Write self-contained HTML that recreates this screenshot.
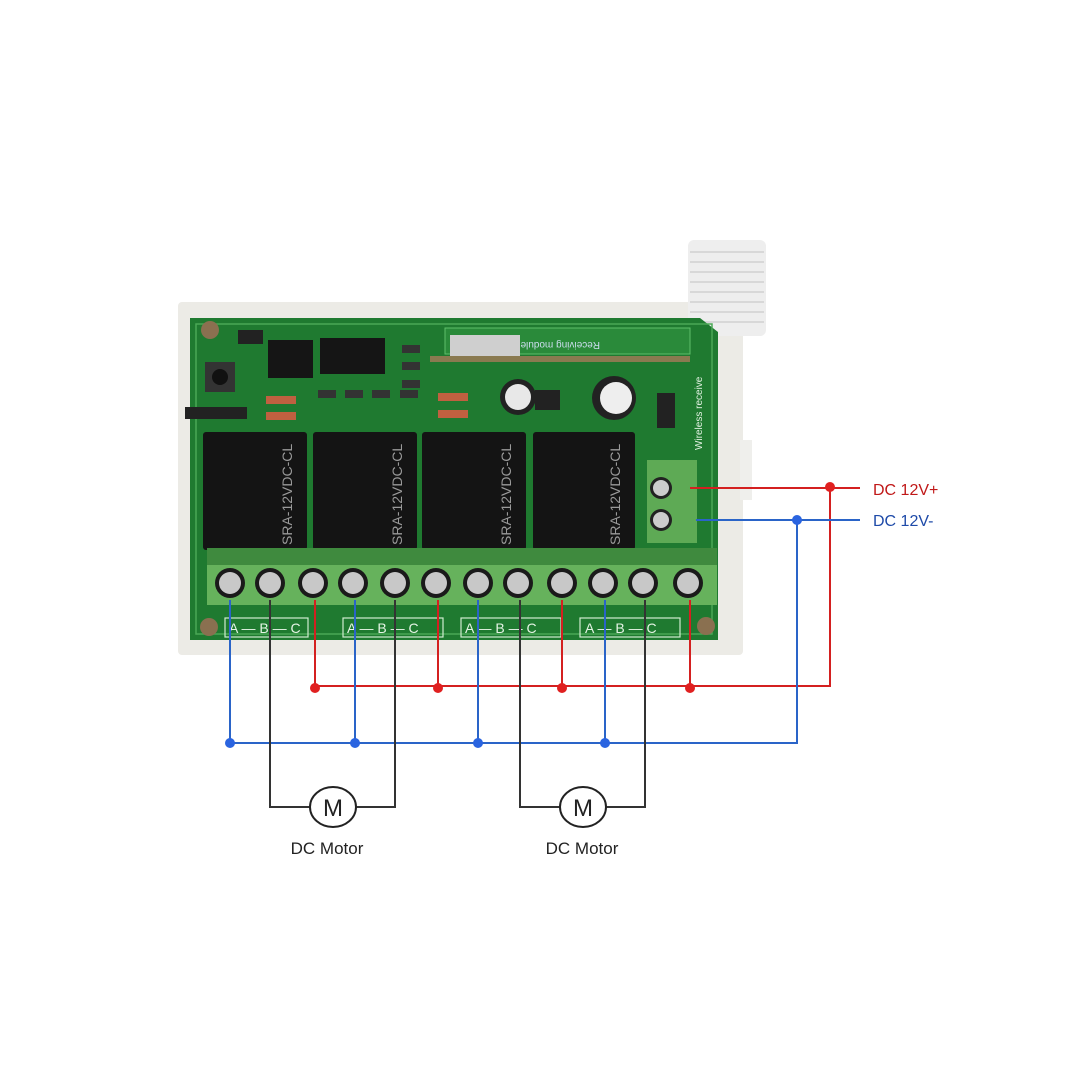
<!DOCTYPE html>
<html><head><meta charset="utf-8"><style>
body{margin:0;background:#fff;}
svg{display:block}
</style></head><body>
<svg width="1080" height="1080" viewBox="0 0 1080 1080" xmlns="http://www.w3.org/2000/svg" font-family="Liberation Sans, sans-serif">
<rect width="1080" height="1080" fill="#fff"/>
<!-- case -->
<rect x="178" y="302" width="565" height="353" rx="4" fill="#ecebe6"/>
<rect x="740" y="440" width="12" height="60" fill="#efefec"/>
<!-- antenna -->
<rect x="688" y="240" width="78" height="96" rx="6" fill="#eeeeee"/>
<g stroke="#d8d8d8" stroke-width="2">
<line x1="690" y1="252" x2="764" y2="252"/><line x1="690" y1="262" x2="764" y2="262"/><line x1="690" y1="272" x2="764" y2="272"/><line x1="690" y1="282" x2="764" y2="282"/><line x1="690" y1="292" x2="764" y2="292"/><line x1="690" y1="302" x2="764" y2="302"/><line x1="690" y1="312" x2="764" y2="312"/><line x1="690" y1="322" x2="764" y2="322"/>
</g>
<!-- board -->
<polygon points="190,318 700,318 718,332 718,640 190,640" fill="#1f7a30"/>
<rect x="196" y="324" width="516" height="310" fill="none" stroke="#4aa855" stroke-width="1.5"/>
<!-- receiving module -->
<rect x="445" y="328" width="245" height="26" fill="#2a8a3a" stroke="#5fbf6a"/>
<rect x="450" y="335" width="70" height="22" fill="#cfcfcf"/>
<rect x="430" y="356" width="260" height="6" fill="#8a7a50"/>
<text x="600" y="348" font-size="10" fill="#cde" transform="rotate(180 600 345)">Receiving module</text>
<text x="702" y="450" font-size="10" fill="#e0f0e0" transform="rotate(-90 702 450)">Wireless receive</text>
<!-- ICs -->
<rect x="268" y="340" width="45" height="38" fill="#151515"/>
<rect x="320" y="338" width="65" height="36" fill="#151515"/>
<rect x="205" y="362" width="30" height="30" fill="#333"/><circle cx="220" cy="377" r="8" fill="#111"/>
<rect x="185" y="407" width="62" height="12" fill="#222"/>
<rect x="238" y="330" width="25" height="14" fill="#222"/>
<!-- small parts -->
<g fill="#c06040"><rect x="266" y="396" width="30" height="8"/><rect x="266" y="412" width="30" height="8"/><rect x="438" y="393" width="30" height="8"/><rect x="438" y="410" width="30" height="8"/></g>
<g fill="#333"><rect x="318" y="390" width="18" height="8"/><rect x="345" y="390" width="18" height="8"/><rect x="372" y="390" width="18" height="8"/><rect x="400" y="390" width="18" height="8"/><rect x="402" y="345" width="18" height="8"/><rect x="402" y="362" width="18" height="8"/><rect x="402" y="380" width="18" height="8"/></g>
<circle cx="518" cy="397" r="18" fill="#222"/><circle cx="518" cy="397" r="13" fill="#e8e8e8"/>
<circle cx="614" cy="398" r="22" fill="#222"/><circle cx="616" cy="398" r="16" fill="#eee"/>
<rect x="535" y="390" width="25" height="20" fill="#222"/>
<rect x="657" y="393" width="18" height="35" fill="#222"/>
<!-- relays -->
<g fill="#141414">
<rect x="203" y="432" width="104" height="118" rx="3"/>
<rect x="313" y="432" width="104" height="118" rx="3"/>
<rect x="422" y="432" width="104" height="118" rx="3"/>
<rect x="533" y="432" width="102" height="118" rx="3"/>
</g>
<g fill="#9a9a9a" font-size="14">
<text transform="translate(292 545) rotate(-90)">SRA-12VDC-CL</text>
<text transform="translate(402 545) rotate(-90)">SRA-12VDC-CL</text>
<text transform="translate(511 545) rotate(-90)">SRA-12VDC-CL</text>
<text transform="translate(620 545) rotate(-90)">SRA-12VDC-CL</text>
</g>
<!-- power terminal -->
<rect x="647" y="460" width="50" height="83" fill="#5eaa55"/>
<circle cx="661" cy="488" r="11" fill="#222"/><circle cx="661" cy="488" r="8" fill="#ccc"/>
<circle cx="661" cy="520" r="11" fill="#222"/><circle cx="661" cy="520" r="8" fill="#ccc"/>
<!-- main terminal -->
<rect x="207" y="548" width="510" height="17" fill="#3f8a3e"/>
<rect x="207" y="565" width="510" height="40" fill="#66b25c"/>
<g>
<g fill="#1a1a1a"><circle cx="230" cy="583" r="15"/><circle cx="270" cy="583" r="15"/><circle cx="313" cy="583" r="15"/><circle cx="353" cy="583" r="15"/><circle cx="395" cy="583" r="15"/><circle cx="436" cy="583" r="15"/><circle cx="478" cy="583" r="15"/><circle cx="518" cy="583" r="15"/><circle cx="562" cy="583" r="15"/><circle cx="603" cy="583" r="15"/><circle cx="643" cy="583" r="15"/><circle cx="688" cy="583" r="15"/></g>
<g fill="#c8c8c8"><circle cx="230" cy="583" r="11"/><circle cx="270" cy="583" r="11"/><circle cx="313" cy="583" r="11"/><circle cx="353" cy="583" r="11"/><circle cx="395" cy="583" r="11"/><circle cx="436" cy="583" r="11"/><circle cx="478" cy="583" r="11"/><circle cx="518" cy="583" r="11"/><circle cx="562" cy="583" r="11"/><circle cx="603" cy="583" r="11"/><circle cx="643" cy="583" r="11"/><circle cx="688" cy="583" r="11"/></g>
</g>
<!-- screws -->
<circle cx="210" cy="330" r="9" fill="#8a7050"/><circle cx="209" cy="627" r="9" fill="#8a7050"/><circle cx="706" cy="626" r="9" fill="#8a7050"/>
<!-- labels -->
<g fill="none" stroke="#d0ecd0" stroke-width="1.2">
<rect x="225" y="618" width="83" height="19"/><rect x="343" y="618" width="100" height="19"/><rect x="461" y="618" width="100" height="19"/><rect x="580" y="618" width="100" height="19"/>
</g>
<g fill="#e4f4e4" font-size="14">
<text x="229" y="633">A — B — C</text><text x="347" y="633">A — B — C</text><text x="465" y="633">A — B — C</text><text x="585" y="633">A — B — C</text>
</g>
<!-- wires -->
<g fill="none" stroke-width="2">
<g stroke="#d42020">
<polyline points="690,488 860,488"/>
<polyline points="315,600 315,686 830,686 830,488"/>
<line x1="438" y1="600" x2="438" y2="686"/><line x1="562" y1="600" x2="562" y2="686"/><line x1="690" y1="600" x2="690" y2="686"/>
</g>
<g stroke="#2a64c8">
<polyline points="696,520 860,520"/>
<polyline points="230,600 230,743 797,743 797,520"/>
<line x1="355" y1="600" x2="355" y2="743"/><line x1="478" y1="600" x2="478" y2="743"/><line x1="605" y1="600" x2="605" y2="743"/>
</g>
<g stroke="#333">
<polyline points="270,600 270,807 310,807"/><polyline points="355,807 395,807 395,600"/>
<polyline points="520,600 520,807 560,807"/><polyline points="606,807 645,807 645,600"/>
</g>
</g>
<g fill="#e02020"><circle cx="830" cy="487" r="5"/><circle cx="315" cy="688" r="5"/><circle cx="438" cy="688" r="5"/><circle cx="562" cy="688" r="5"/><circle cx="690" cy="688" r="5"/></g>
<g fill="#2a64e0"><circle cx="797" cy="520" r="5"/><circle cx="230" cy="743" r="5"/><circle cx="355" cy="743" r="5"/><circle cx="478" cy="743" r="5"/><circle cx="605" cy="743" r="5"/></g>
<ellipse cx="333" cy="807" rx="23" ry="20" fill="#fff" stroke="#222" stroke-width="2"/>
<ellipse cx="583" cy="807" rx="23" ry="20" fill="#fff" stroke="#222" stroke-width="2"/>
<text x="333" y="816" font-size="24" text-anchor="middle" fill="#222">M</text>
<text x="583" y="816" font-size="24" text-anchor="middle" fill="#222">M</text>
<text x="327" y="854" font-size="17" text-anchor="middle" fill="#222">DC Motor</text>
<text x="582" y="854" font-size="17" text-anchor="middle" fill="#222">DC Motor</text>
<text x="873" y="495" font-size="16" fill="#c01818">DC 12V+</text>
<text x="873" y="526" font-size="16" fill="#1e4aa8">DC 12V-</text>
</svg>
</body></html>
